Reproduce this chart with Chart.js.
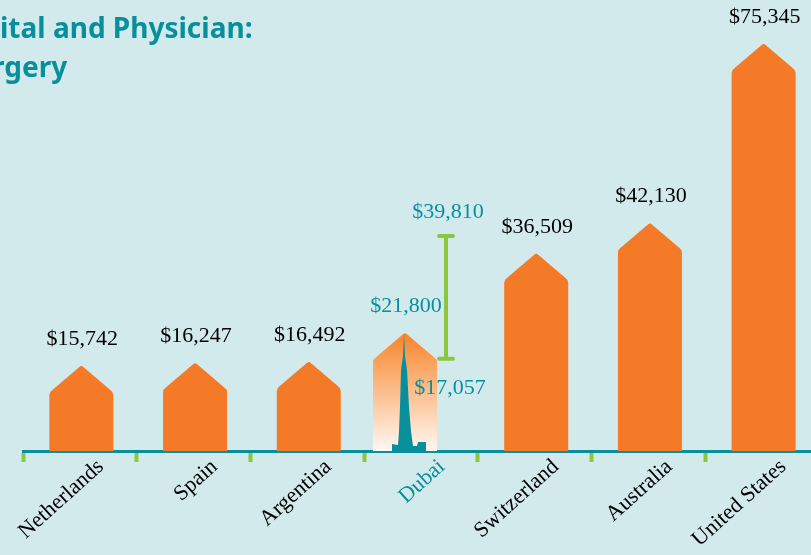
<!DOCTYPE html>
<html>
<head>
<meta charset="utf-8">
<style>
html, body { margin: 0; padding: 0; background: #d3eaed; overflow: hidden; }
canvas { display: block; }
</style>
<script src="https://cdn.jsdelivr.net/npm/chart.js@4"></script>
</head>
<body>
<canvas id="chart" width="830" height="555"></canvas>
<script>
const categories = ["Netherlands", "Spain", "Argentina", "Dubai", "Switzerland", "Australia", "United States"];
const costs = [15742, 16247, 16492, 21800, 36509, 42130, 75345];
const dubaiLow = 17057;
const dubaiHigh = 39810;
const titleLines = ["ital and Physician:", "rgery"];

const teal = "#078f9b";
const orange = "#f57a28";
const green = "#8cc63f";
const labelFont = "22px 'Liberation Serif'";
const dubaiIndex = categories.indexOf("Dubai");

function money(v) {
    return "$" + v.toLocaleString("en-US");
}

function housePath(ctx, x, top, base, w) {
    var half = w / 2, shoulder = top + 26, r = 3;
    ctx.beginPath();
    ctx.moveTo(x - half, base);
    ctx.lineTo(x - half, shoulder + r);
    ctx.quadraticCurveTo(x - half, shoulder, x - half + r, shoulder - 2);
    ctx.lineTo(x - 2, top + 1);
    ctx.quadraticCurveTo(x, top - 1, x + 2, top + 1);
    ctx.lineTo(x + half - r, shoulder - 2);
    ctx.quadraticCurveTo(x + half, shoulder, x + half, shoulder + r);
    ctx.lineTo(x + half, base);
    ctx.closePath();
}

// rough silhouette of the tower, offsets measured from the bar centre and base
function drawTower(ctx, x, top, base) {
    ctx.fillStyle = teal;
    ctx.beginPath();
    ctx.moveTo(x - 1, top);
    ctx.lineTo(x - 2, base - 95);
    ctx.lineTo(x - 4, base - 81);
    ctx.lineTo(x - 5, base - 44);
    ctx.lineTo(x - 6, base - 20);
    ctx.lineTo(x - 7, base - 6);
    ctx.lineTo(x - 13, base - 7);
    ctx.lineTo(x - 13, base);
    ctx.lineTo(x + 21, base);
    ctx.lineTo(x + 21, base - 9);
    ctx.lineTo(x + 13, base - 9);
    ctx.lineTo(x + 12, base - 5);
    ctx.lineTo(x + 8, base - 5);
    ctx.lineTo(x + 6, base - 20);
    ctx.lineTo(x + 4, base - 44);
    ctx.lineTo(x + 2, base - 81);
    ctx.lineTo(x, base - 95);
    ctx.closePath();
    ctx.fill();
}

const housePlugin = {
    id: "houses",
    beforeDatasetDraw: function() {
        return false;
    },
    afterDatasetsDraw: function(chart) {
        var ctx = chart.ctx, meta = chart.getDatasetMeta(0), y = chart.scales.y;
        ctx.save();
        ctx.textAlign = "center";
        ctx.textBaseline = "middle";
        ctx.font = labelFont;
        meta.data.forEach(function(bar, i) {
            var x = bar.x + 1.5;
            if (i === dubaiIndex) {
                x = bar.x - 16;
                var grad = ctx.createLinearGradient(0, bar.y, 0, bar.base);
                grad.addColorStop(0, "#f8852a");
                grad.addColorStop(1, "#fff8f2");
                ctx.fillStyle = grad;
            } else {
                ctx.fillStyle = orange;
            }
            housePath(ctx, x, bar.y, bar.base, bar.width);
            ctx.fill();
            if (i === dubaiIndex) {
                drawTower(ctx, x, bar.y, bar.base);
            }
            ctx.fillStyle = i === dubaiIndex ? teal : "#000";
            ctx.fillText(money(costs[i]), x + 1, bar.y - 27);
        });

        // Dubai range whisker
        var d = meta.data[dubaiIndex], wx = d.x + 25;
        var yHigh = y.getPixelForValue(dubaiHigh), yLow = y.getPixelForValue(dubaiLow);
        ctx.strokeStyle = green;
        ctx.lineWidth = 4;
        ctx.lineCap = "round";
        ctx.beginPath();
        ctx.moveTo(wx, yHigh);
        ctx.lineTo(wx, yLow);
        ctx.moveTo(wx - 7, yHigh);
        ctx.lineTo(wx + 7, yHigh);
        ctx.moveTo(wx - 7, yLow);
        ctx.lineTo(wx + 7, yLow);
        ctx.stroke();
        ctx.fillStyle = teal;
        ctx.fillText(money(dubaiHigh), wx + 2, yHigh - 24);
        ctx.fillText(money(dubaiLow), wx + 4, yLow + 29);

        // title, cut off at the left edge in the source
        ctx.textAlign = "left";
        ctx.fillStyle = teal;
        ctx.font = "bold 28px 'Noto Sans'";
        ctx.fillText(titleLines[0], 0, 30);
        ctx.fillText(titleLines[1], -8, 69);
        ctx.restore();
    }
};

new Chart(document.getElementById("chart"), {
    type: "bar",
    data: {
        labels: categories,
        datasets: [{
            data: costs,
            backgroundColor: orange,
            categoryPercentage: 1,
            barPercentage: 0.563
        }]
    },
    options: {
        responsive: false,
        animation: false,
        layout: { padding: { left: 23, right: 11, top: 0, bottom: 0 } },
        plugins: { legend: { display: false }, tooltip: { enabled: false } },
        scales: {
            x: {
                afterFit: function(scale) {
                    scale.height = 104;
                    scale.paddingLeft = 0;
                    scale.paddingRight = 0;
                },
                border: { color: teal, width: 3 },
                grid: {
                    offset: true,
                    drawOnChartArea: false,
                    tickColor: green,
                    tickWidth: 4,
                    tickLength: 11
                },
                ticks: {
                    autoSkip: false,
                    minRotation: 42,
                    maxRotation: 42,
                    labelOffset: 21,
                    padding: -8,
                    font: { family: "'Liberation Serif'", size: 22 },
                    color: function(c) { return c.index === dubaiIndex ? teal : "#000"; }
                }
            },
            y: { display: false, min: 0, max: 83490 }
        }
    },
    plugins: [housePlugin]
});
</script>
</body>
</html>
